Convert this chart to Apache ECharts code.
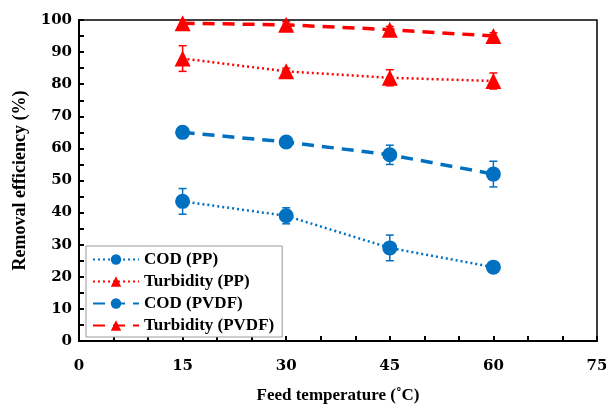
<!DOCTYPE html>
<html>
<head>
<meta charset="utf-8">
<script src="https://cdn.jsdelivr.net/npm/echarts@6/dist/echarts.min.js"></script>
<style>
  html, body { margin: 0; padding: 0; background: #fff; }
  #chart { width: 606px; height: 409px; }
</style>
</head>
<body>
<div id="chart"></div>
<script>
// data
const temps = [15, 30, 45, 60];
const codPP = [43.5, 39, 29, 23];
const codPPErr = [4, 2.5, 4, 1];
const turbPP = [88, 84, 82, 81];
const turbPPErr = [4, 1, 2.5, 2.5];
const codPVDF = [65, 62, 58, 52];
const codPVDFErr = [1, 1, 3, 4];
const turbPVDF = [99, 98.5, 97, 95];
const turbPVDFErr = [1, 1, 1, 1];

const BLUE = '#0070c0';
const RED = '#ff0000';
const FONT = '"Liberation Serif", "DejaVu Serif", serif';
const TICKFONT = '"DejaVu Serif", "Liberation Serif", serif';

const pairs = (ys) => temps.map((t, i) => [t, ys[i]]);
const errData = (ys, es) => temps.map((t, i) => [t, ys[i] - es[i], ys[i] + es[i]]);

const errSeries = (ys, es, color) => ({
  type: 'custom',
  silent: true,
  data: errData(ys, es),
  z: 1,
  renderItem: (params, api) => {
    const lo = api.coord([api.value(0), api.value(1)]);
    const hi = api.coord([api.value(0), api.value(2)]);
    const w = 4;
    const st = { stroke: color, lineWidth: 1.5 };
    return {
      type: 'group',
      children: [
        { type: 'line', shape: { x1: lo[0], y1: lo[1], x2: hi[0], y2: hi[1] }, style: st },
        { type: 'line', shape: { x1: lo[0] - w, y1: lo[1], x2: lo[0] + w, y2: lo[1] }, style: st },
        { type: 'line', shape: { x1: hi[0] - w, y1: hi[1], x2: hi[0] + w, y2: hi[1] }, style: st }
      ]
    };
  }
});

const lineSeries = (name, ys, color, symbol, dash, width) => ({
  name: name,
  type: 'line',
  data: pairs(ys),
  symbol: symbol,
  symbolSize: symbol === 'circle' ? 15 : 16,
  z: 3,
  itemStyle: { color: color },
  lineStyle: { color: color, type: dash, width: width }
});

const chart = echarts.init(document.getElementById('chart'));
chart.setOption({
  animation: false,
  grid: {
    left: 79, right: 9, top: 20, bottom: 68,
    outerBoundsMode: 'none',
    show: true, borderColor: '#000', borderWidth: 1.5
  },
  legend: {
    orient: 'vertical',
    left: 86, top: 246,
    itemWidth: 46, itemHeight: 13, itemGap: 5,
    padding: [5, 8, 3, 6],
    borderColor: '#999', borderWidth: 1,
    backgroundColor: '#fff',
    textStyle: { fontFamily: FONT, fontSize: 17, fontWeight: 'bold', color: '#000' },
    data: ['COD (PP)', 'Turbidity (PP)', 'COD (PVDF)', 'Turbidity (PVDF)']
  },
  xAxis: {
    type: 'value', min: 0, max: 75, interval: 15,
    name: 'Feed temperature (\u02daC)',
    nameLocation: 'middle', nameGap: 46,
    nameTextStyle: { fontFamily: FONT, fontSize: 17, fontWeight: 'bold', color: '#000' },
    axisLine: { lineStyle: { color: '#000', width: 2 } },
    axisTick: { inside: true, length: 5, lineStyle: { color: '#000', width: 2 } },
    minorTick: { show: true, splitNumber: 3, length: 5, lineStyle: { color: '#000', width: 2 } },
    splitLine: { show: false },
    axisLabel: { margin: 18, fontFamily: TICKFONT, fontSize: 15, fontWeight: 'bold', color: '#000' }
  },
  yAxis: {
    type: 'value', min: 0, max: 100, interval: 10,
    name: 'Removal efficiency (%)',
    nameLocation: 'middle', nameGap: 49,
    nameTextStyle: { fontFamily: FONT, fontSize: 18, fontWeight: 'bold', color: '#000' },
    axisLine: { lineStyle: { color: '#000', width: 2 } },
    axisTick: { inside: true, length: 5, lineStyle: { color: '#000', width: 2 } },
    minorTick: { show: true, splitNumber: 2, length: 5, lineStyle: { color: '#000', width: 2 } },
    splitLine: { show: false },
    axisLabel: { margin: 7, fontFamily: TICKFONT, fontSize: 15, fontWeight: 'bold', color: '#000' }
  },
  series: [
    errSeries(codPP, codPPErr, BLUE),
    errSeries(turbPP, turbPPErr, RED),
    errSeries(codPVDF, codPVDFErr, BLUE),
    errSeries(turbPVDF, turbPVDFErr, RED),
    lineSeries('COD (PP)', codPP, BLUE, 'circle', [2, 3], 2.5),
    lineSeries('Turbidity (PP)', turbPP, RED, 'triangle', [2, 3], 2.5),
    lineSeries('COD (PVDF)', codPVDF, BLUE, 'circle', [12, 8], 3.5),
    lineSeries('Turbidity (PVDF)', turbPVDF, RED, 'triangle', [12, 8], 3.5)
  ]
});
</script>
</body>
</html>
